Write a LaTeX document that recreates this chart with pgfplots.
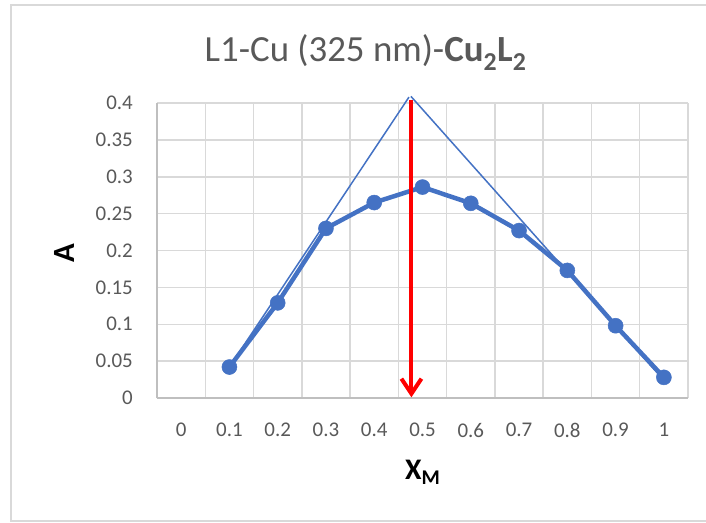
\documentclass[border=0pt]{standalone}
\usepackage{fontspec}
\setmainfont{Carlito}
\usepackage{pgfplots}
\pgfplotsset{compat=1.18}
\usetikzlibrary{arrows.meta}
\definecolor{exblue}{HTML}{4472C4}
\definecolor{gridc}{HTML}{D9D9D9}
\definecolor{axc}{HTML}{BFBFBF}
\definecolor{tickc}{HTML}{595959}

\begin{document}
\begin{tikzpicture}[x=1bp,y=1bp]
\path[use as bounding box] (0,0) rectangle (706,-523);
\fill[white] (0,0) rectangle (706,-523);
\draw[color=gridc, line width=1.5bp] (11,-5) rectangle (720,-521);
\begin{axis}[
  at={(157bp,-398bp)}, anchor=south west,
  scale only axis, width=531bp, height=295bp,
  xmin=-0.05, xmax=1.05, ymin=0, ymax=0.4,
  clip=false,
  axis x line*=bottom, axis y line*=left,
  axis line style={-, draw=axc, line width=1.5bp},
  xtick={0,0.1,0.2,0.3,0.4,0.5,0.6,0.7,0.8,0.9,1},
  xticklabels={0,0.1,0.2,0.3,0.4,0.5,0.6,0.7,0.8,0.9,1},
  minor xtick={-0.05,0.05,0.15,0.25,0.35,0.45,0.55,0.65,0.75,0.85,0.95,1.05},
  ytick={0,0.05,0.1,0.15,0.2,0.25,0.3,0.35,0.4},
  yticklabels={0,0.05,0.1,0.15,0.2,0.25,0.3,0.35,0.4},
  major tick length=0pt, minor tick length=0pt,
  xmajorgrids=false, xminorgrids=true, ymajorgrids=true,
  grid style={draw=gridc, line width=1.5bp},
  minor grid style={draw=gridc, line width=1.5bp},
  tick label style={font=\fontsize{21}{24}\selectfont, text=tickc, inner sep=0pt},
  xticklabel style={anchor=north, yshift=-25bp},
  yticklabel style={anchor=east, xshift=-24bp},
]
\addplot[exblue, line width=4.5bp, mark=*, mark size=7.5bp,
  mark options={solid, fill=exblue, draw=exblue, line width=0.5bp}]
  coordinates {(0.1,0.042) (0.2,0.129) (0.3,0.230) (0.4,0.265) (0.5,0.286)
               (0.6,0.264) (0.7,0.227) (0.8,0.173) (0.9,0.098) (1.0,0.028)};
\addplot[exblue, line width=1.5bp] coordinates {(0.1,0.042) (0.472,0.408)};
\addplot[exblue, line width=1.5bp] coordinates {(0.476,0.409) (1.0,0.024)};
\addplot[red, line width=4bp, -{Straight Barb[length=15bp, width=20bp]}]
  coordinates {(0.477,0.404) (0.477,0.001)};
\end{axis}
\node[anchor=base, text=tickc, font=\fontsize{37}{40}\selectfont, inner sep=0pt]
  at (365.5,-61.7) {L1-Cu (325 nm)-\textbf{Cu\textsubscript{2}L\textsubscript{2}}};
\node[anchor=base west, font=\fontsize{30}{32}\selectfont\bfseries, inner sep=0pt]
  at (405,-479.3) {X\textsubscript{M}};
\node[rotate=90, font=\fontsize{31}{33}\selectfont\bfseries, inner sep=0pt]
  at (64,-253) {A};
\end{tikzpicture}
\end{document}
